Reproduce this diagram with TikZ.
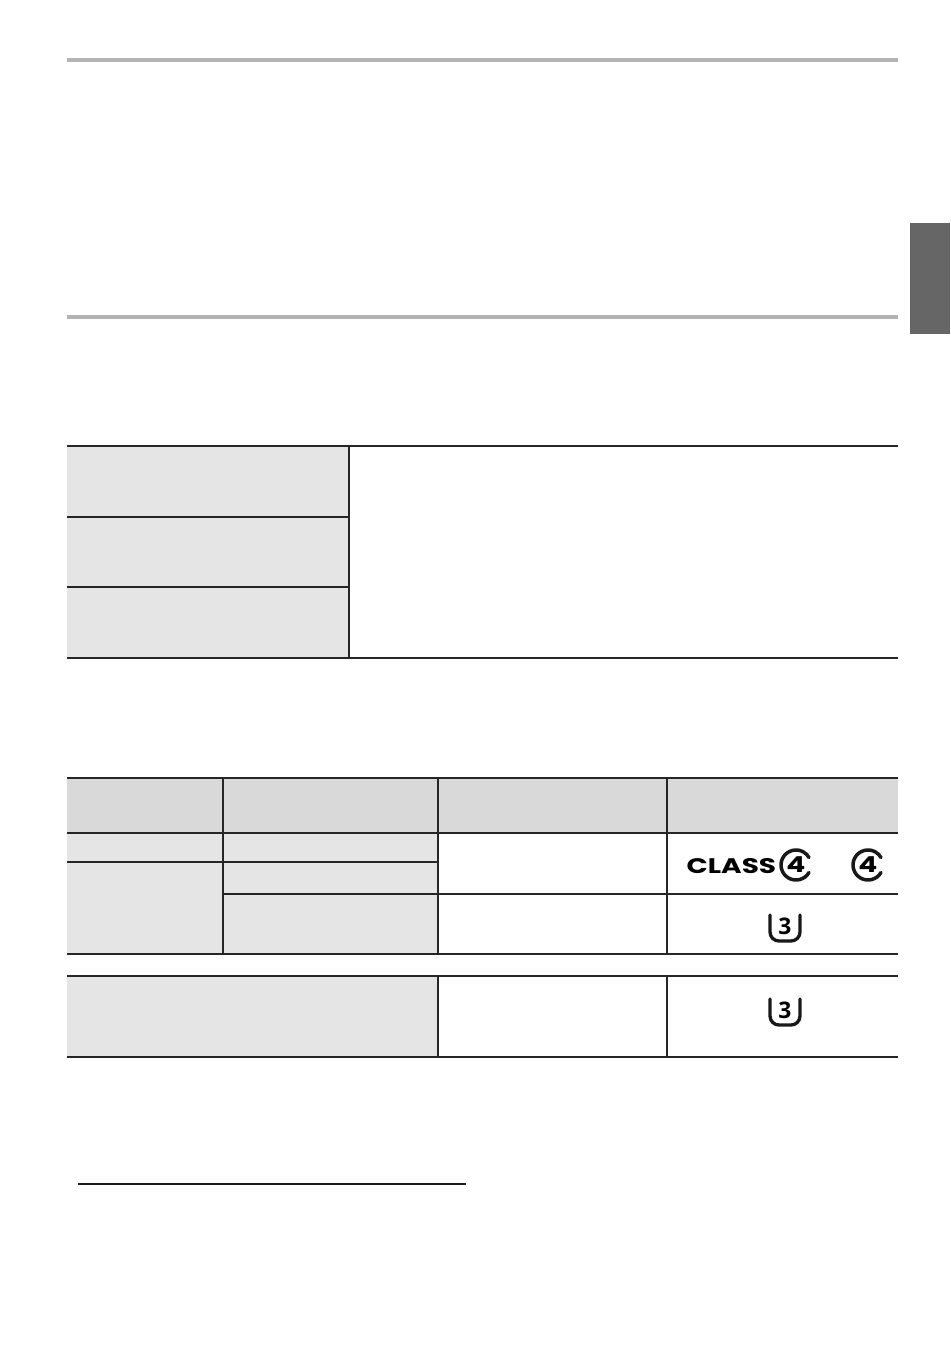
\documentclass[tikz,border=0pt]{standalone}
\usepackage{fontspec}
\setmainfont{Liberation Sans}
\newfontfamily\classfont{Poppins}
\newfontfamily\speedfont{Open Sans}
\definecolor{headgray}{HTML}{D9D9D9}
\definecolor{cellgray}{HTML}{E5E5E5}
\definecolor{rulegray}{HTML}{B3B3B3}
\definecolor{tabgray}{HTML}{666666}
\tikzset{
  tableline/.style={line width=1pt, black!85},
  logotext/.style={inner sep=0pt},
  logoline/.style={black!90, line cap=round},
  speedmark/.pic={
    \draw[logoline, line width=1.9pt] (-15,-13) -- (-15,4) arc[start angle=180, end angle=90, radius=9] -- (6,13) arc[start angle=90, end angle=0, radius=9] -- (15,-13);
    \node[logotext, font=\speedfont\bfseries, scale=1.3] (-three) at (0,-2) {3};
  },
  classmark/.pic={
    \draw[logoline, line width=2pt] (13,7.5) arc[start angle=30, end angle=330, radius=15];
    \node[logotext, font=\classfont\bfseries, xscale=1.6, yscale=1.25] (-four) at (0,0) {4};
  }
}
\begin{document}
\begin{tikzpicture}[x=0.02cm, y=-0.02cm]
  \useasboundingbox (0,0) rectangle (950,1352);

  % Section rules and side tab
  \fill[rulegray] (67,58) rectangle (898,62);
  \fill[rulegray] (67,315) rectangle (898,319);
  \fill[tabgray] (910,223) rectangle (950,334);

  % First table
  \fill[cellgray] (67,446) rectangle (349,658);
  \draw[tableline] (67,446) -- (898,446);
  \draw[tableline] (67,517) -- (349,517);
  \draw[tableline] (67,587) -- (349,587);
  \draw[tableline] (67,658) -- (898,658);
  \draw[tableline] (349,446) -- (349,658);

  % Second table
  \fill[headgray] (67,778) rectangle (898,833);
  \fill[cellgray] (67,833) rectangle (438,954);
  \foreach \ypos/\xend in {778/898, 833/898, 862/438, 954/898} {
    \draw[tableline] (67,\ypos) -- (\xend,\ypos);
  }
  \draw[tableline] (223,894) -- (898,894);
  \foreach \xpos in {223,438,667} {
    \draw[tableline] (\xpos,778) -- (\xpos,954);
  }

  % Third table
  \fill[cellgray] (67,976) rectangle (438,1057);
  \draw[tableline] (67,976) -- (898,976);
  \draw[tableline] (67,1057) -- (898,1057);
  \foreach \xpos in {438,667} {
    \draw[tableline] (\xpos,976) -- (\xpos,1057);
  }

  % Card logos
  \node[logotext, anchor=west, font=\classfont\bfseries, xscale=1.59, yscale=1.2] (classword) at (686,866) {CLASS};
  \pic (classone) at (796,865) {classmark};
  \pic (classtwo) at (868,865) {classmark};
  \pic (speedone) at (785,928) {speedmark};
  \pic (speedtwo) at (785,1012) {speedmark};

  % Footnote rule
  \draw[line width=1.2pt, black!90] (78,1184) -- (466,1184);
\end{tikzpicture}
\end{document}
